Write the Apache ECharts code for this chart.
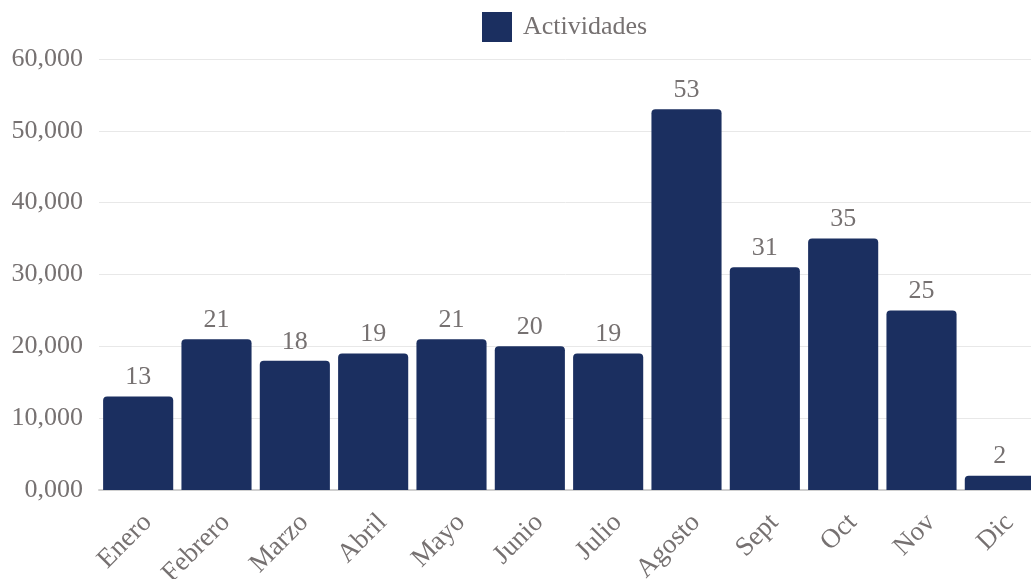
<!DOCTYPE html>
<html>
<head>
<meta charset="utf-8">
<script src="https://cdn.jsdelivr.net/npm/echarts@6/dist/echarts.min.js"></script>
<style>html,body{margin:0;padding:0;background:#fff}#c{width:1031px;height:579px}</style>
</head>
<body>
<div id="c"></div>
<script>
var categories = ["Enero","Febrero","Marzo","Abril","Mayo","Junio","Julio","Agosto","Sept","Oct","Nov","Dic"];
var seriesName = "Actividades";
var values = [13, 21, 18, 19, 21, 20, 19, 53, 31, 35, 25, 2];
var yMin = 0, yMax = 60, yStep = 10;

var font = "'Liberation Serif', 'Times New Roman', serif";
var textColor = "#767171";
var chart = echarts.init(document.getElementById('c'), null, {renderer: 'canvas'});
chart.setOption({
  animation: false,
  textStyle: {fontFamily: font},
  legend: {
    data: [{name: seriesName, icon: 'rect'}],
    top: 12,
    left: 482,
    padding: 0,
    itemWidth: 30,
    itemHeight: 30,
    textStyle: {fontFamily: font, fontSize: 26, color: textColor, padding: [0, 0, 0, 6]}
  },
  grid: {left: 99, width: 940, top: 59, bottom: 89, containLabel: false, outerBoundsMode: 'none'},
  xAxis: {
    type: 'category',
    data: categories,
    axisLine: {lineStyle: {color: '#d0d0d0', width: 2}},
    axisTick: {show: false},
    axisLabel: {rotate: 45, verticalAlign: 'top', fontFamily: font, fontSize: 27, color: textColor, margin: 19, interval: 0}
  },
  yAxis: {
    type: 'value',
    min: yMin, max: yMax, interval: yStep,
    axisLine: {show: false},
    axisTick: {show: false},
    splitLine: {lineStyle: {color: '#e8e8e8', width: 1}},
    axisLabel: {
      fontFamily: font, fontSize: 26, color: textColor, margin: 16,
      formatter: function (v) { return v.toFixed(3).replace('.', ','); }
    }
  },
  series: [{
    name: seriesName,
    type: 'bar',
    data: values,
    barCategoryGap: '10.5%',
    itemStyle: {color: '#1b2f60', borderRadius: [4, 4, 0, 0]},
    label: {show: true, position: 'top', distance: 6, fontFamily: font, fontSize: 26, color: textColor}
  }]
});
</script>
</body>
</html>
